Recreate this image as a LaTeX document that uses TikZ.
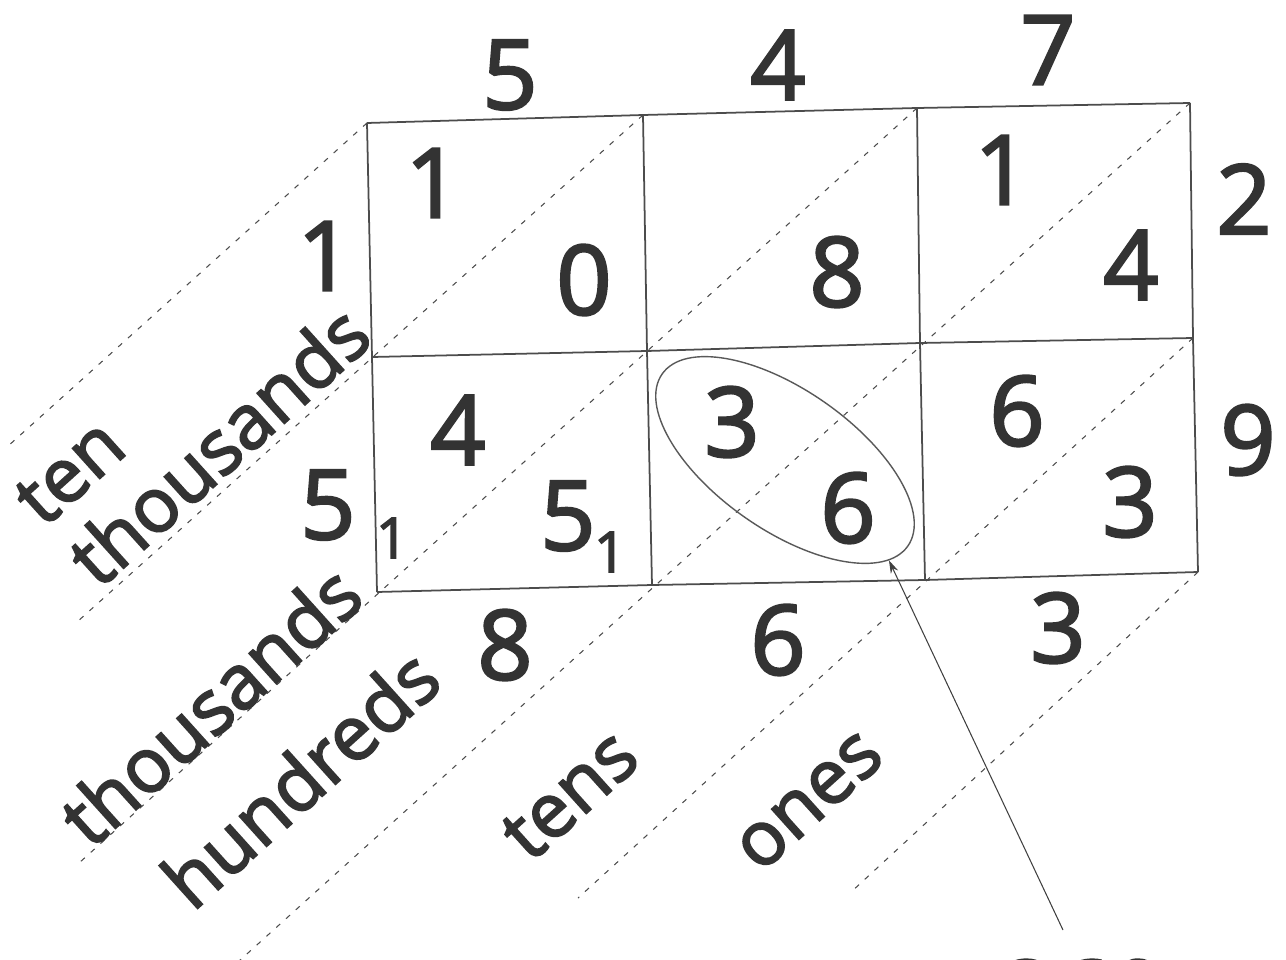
\documentclass[tikz,border=0pt]{standalone}
\usepackage{fontspec}
\setmainfont{Open Sans}[FakeBold=2.5]
\usetikzlibrary{arrows.meta, positioning, shapes.geometric}

\begin{document}
\begin{tikzpicture}[
    x=0.02cm, y=-0.02cm, % one unit = one pixel of the sketch, y downwards
    >={Stealth[length=2.6mm, width=1.6mm]}, % Set default arrow tip style
    gridline/.style={black!70, line width=1pt}, % Style for the lattice box
    diagonal/.style={black!70, line width=0.6pt, dash pattern=on 3pt off 4.5pt}, % Place value lanes
    numeral/.style={text=black!80, font=\fontsize{55}{58}\selectfont, inner sep=0pt}, % Style for digits
    carry/.style={text=black!80, font=\fontsize{32}{34}\selectfont, inner sep=0pt}, % Small carried ones
    place/.style={text=black!80, font=\fontsize{43}{47}\selectfont, rotate=42, inner sep=0pt}, % Lane names
    ring/.style={ellipse, draw=black!65, line width=0.8pt, minimum width=6cm, minimum height=2.8cm, rotate=-35},
    pointer/.style={->, black!75, line width=0.6pt}
]

    % Frame of the sketch
    \useasboundingbox (0,0) rectangle (1286,960);
    \clip (0,0) rectangle (1286,960);

    % Corners of the lattice (column i, row j)
    \coordinate (g00) at (367,123); \coordinate (g10) at (643,115);
    \coordinate (g20) at (917,108); \coordinate (g30) at (1190,103);
    \coordinate (g01) at (372,357); \coordinate (g11) at (647,351);
    \coordinate (g21) at (920,343); \coordinate (g31) at (1193,338);
    \coordinate (g02) at (377,592); \coordinate (g12) at (652,585);
    \coordinate (g22) at (925,580); \coordinate (g32) at (1198,572);

    % Lower ends of the dashed lanes
    \coordinate (d1) at (7,447);   \coordinate (d2) at (77,622);
    \coordinate (d3) at (79,863);  \coordinate (d4) at (238,962);
    \coordinate (d5) at (578,898); \coordinate (d6) at (850,893);

    % Dashed diagonals
    \foreach \s/\e in {g00/d1, g10/d2, g20/d3, g30/d4, g31/d5, g32/d6}
        \draw[diagonal] (\s) -- (\e);

    % Lattice lines
    \foreach \j in {0,1,2}
        \draw[gridline] (g0\j) -- (g1\j) -- (g2\j) -- (g3\j);
    \foreach \i in {0,...,3}
        \draw[gridline] (g\i0) -- (g\i1) -- (g\i2);

    % Factors round the lattice
    \foreach \n/\d/\p in {1/5/{510,75}, 2/4/{778,65}, 3/7/{1048,50}}
        \node[numeral] (top\n) at (\p) {\d};
    \foreach \n/\d/\p in {1/2/{1244,199}, 2/9/{1248,440}}
        \node[numeral] (right\n) at (\p) {\d};

    % Answer digits round the lattice
    \foreach \n/\d/\p in {1/1/{325,256}, 2/5/{328,505}}
        \node[numeral] (left\n) at (\p) {\d};
    \foreach \n/\d/\p in {1/8/{505,645}, 2/6/{778,640}, 3/3/{1058,628}}
        \node[numeral] (bottom\n) at (\p) {\d};

    % Partial products in the cells
    \foreach \n/\d/\p in {a/1/{433,183}, b/0/{584,280}, c/8/{837,272},
                          d/1/{1002,170}, e/4/{1131,265},
                          f/4/{458,430}, g/5/{568,516},
                          h/3/{732,422}, i/6/{848,508},
                          j/6/{1017,411}, k/3/{1130,502}}
        \node[numeral] (cell\n) at (\p) {\d};

    % Carried ones
    \node[carry] (carryA) at (392,538) {1};
    \node[carry] (carryB) at (610,552) {1};

    % Names of the lanes
    \node[place, align=left] (lane1) at (193,417) {ten\\thousands};
    \node[place] (lane2) at (210,705) {thousands};
    \node[place] (lane3) at (300,778) {hundreds};
    \node[place] (lane4) at (570,795) {tens};
    \node[place] (lane5) at (810,802) {ones};

    % Ring round 3 and 6 with its pointer
    \node[ring] (oval) at (785,460) {};
    \coordinate (tail) at (1063,930);
    \draw[pointer] (tail) -- (oval.-9);

    % Note under the pointer, cut by the edge
    \node[numeral] (note) at (1083,995) {360};

\end{tikzpicture}
\end{document}
